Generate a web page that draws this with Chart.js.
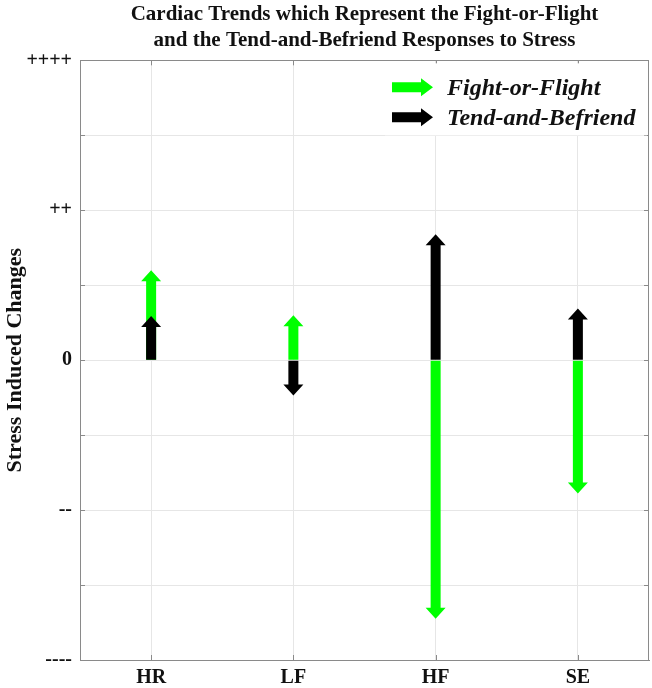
<!DOCTYPE html>
<html>
<head>
<meta charset="utf-8">
<script src="https://cdn.jsdelivr.net/npm/chart.js@4.4.1/dist/chart.umd.min.js"></script>
<style>
  html, body { margin: 0; padding: 0; background: #fff; }
  #wrap { width: 652px; height: 688px; }
</style>
</head>
<body>
<div id="wrap"><canvas id="cardiac"></canvas></div>
<script>
// data
const categories = ['HR', 'LF', 'HF', 'SE'];
const fightFlight = [1.2, 0.6, -3.45, -1.78];
const tendBefriend = [0.59, -0.47, 1.68, 0.69];
const yTickValues = [-4, -2, 0, 2, 4];
const yTickText = ['----', '--', '0', '++', '++++'];

const serif = 'Liberation Serif, Times New Roman, serif';
const axisGrey = '#8a8a8a';

// draw each bar as an arrow (shaft + head) from its base to its value
const arrowBars = {
  id: 'arrowBars',
  beforeDatasetDraw(chart, args) {
    const ctx = chart.ctx;
    const ds = chart.data.datasets[args.index];
    ctx.save();
    ctx.fillStyle = ds.backgroundColor;
    args.meta.data.forEach(el => {
      const p = el.getProps(['x', 'y', 'base'], true);
      const dir = p.y < p.base ? -1 : 1;
      const neck = p.y - dir * 11;
      ctx.beginPath();
      ctx.moveTo(p.x - 5, p.base);
      ctx.lineTo(p.x - 5, neck);
      ctx.lineTo(p.x - 10, neck);
      ctx.lineTo(p.x, p.y);
      ctx.lineTo(p.x + 10, neck);
      ctx.lineTo(p.x + 5, neck);
      ctx.lineTo(p.x + 5, p.base);
      ctx.closePath();
      ctx.fill();
    });
    ctx.restore();
    return false;
  }
};

// box around the plot, inward tick marks and the legend inside the plot
const frameAndLegend = {
  id: 'frameAndLegend',
  afterDraw(chart) {
    const ctx = chart.ctx;
    const ca = chart.chartArea;
    const xs = chart.scales.x, ys = chart.scales.y;
    ctx.save();
    ctx.strokeStyle = axisGrey;
    ctx.lineWidth = 1;
    ctx.beginPath();
    for (let v = -4; v <= 4; v++) {
      const y = Math.round(ys.getPixelForValue(v)) + 0.5;
      ctx.moveTo(ca.left, y); ctx.lineTo(ca.left + 5, y);
      ctx.moveTo(ca.right, y); ctx.lineTo(ca.right - 5, y);
    }
    categories.forEach((c, i) => {
      const x = Math.round(xs.getPixelForValue(i)) + 0.5;
      ctx.moveTo(x, ca.bottom); ctx.lineTo(x, ca.bottom - 5);
      ctx.moveTo(x, ca.top); ctx.lineTo(x, ca.top + 5);
    });
    ctx.stroke();
    ctx.strokeRect(Math.round(ca.left) + 0.5, Math.round(ca.top) + 0.5,
      Math.round(ca.right - ca.left) - 1, Math.round(ca.bottom - ca.top));

    // legend
    const lx = ca.right - 264, ly = ca.top + 3;
    ctx.fillStyle = '#fff';
    ctx.fillRect(lx, ly, 262, 72);
    const rows = [ca.top + 27, ca.top + 57];
    chart.data.datasets.forEach((ds, i) => {
      const y = rows[i];
      const x0 = ca.right - 257, x1 = ca.right - 216;
      ctx.fillStyle = ds.backgroundColor;
      ctx.beginPath();
      ctx.moveTo(x0, y - 5);
      ctx.lineTo(x1 - 12, y - 5);
      ctx.lineTo(x1 - 12, y - 9);
      ctx.lineTo(x1, y);
      ctx.lineTo(x1 - 12, y + 9);
      ctx.lineTo(x1 - 12, y + 5);
      ctx.lineTo(x0, y + 5);
      ctx.closePath();
      ctx.fill();
      ctx.fillStyle = '#111';
      ctx.font = 'italic bold 24px ' + serif;
      ctx.textBaseline = 'middle';
      ctx.fillText(ds.label, ca.right - 202, y + 1);
    });
    ctx.restore();
  }
};

new Chart(document.getElementById('cardiac'), {
  type: 'bar',
  data: {
    labels: categories,
    datasets: [
      {
        label: 'Fight-or-Flight',
        data: fightFlight.map(v => [0, v]),
        backgroundColor: '#00ff00',
        barThickness: 10,
        grouped: false,
        order: 1
      },
      {
        label: 'Tend-and-Befriend',
        data: tendBefriend.map(v => [0, v]),
        backgroundColor: '#000000',
        barThickness: 10,
        grouped: false,
        order: 0
      }
    ]
  },
  options: {
    responsive: true,
    maintainAspectRatio: false,
    animation: false,
    layout: { padding: { right: 3, left: 0, top: 0, bottom: 0 } },
    plugins: {
      legend: { display: false },
      tooltip: { enabled: false },
      title: {
        display: true,
        fullSize: false,
        text: ['Cardiac Trends which Represent the Fight-or-Flight',
               'and the Tend-and-Befriend Responses to Stress'],
        color: '#111',
        font: { family: serif, size: 21, weight: 'bold', lineHeight: 1.27 },
        padding: { top: 1, bottom: 6 }
      }
    },
    scales: {
      x: {
        offset: true,
        grid: { offset: false, color: '#e6e6e6', drawTicks: false },
        border: { color: axisGrey },
        ticks: {
          color: '#111',
          padding: 6,
          font: { family: serif, size: 20, weight: 'bold' }
        },
        afterFit(s) { s.height = 28; }
      },
      y: {
        min: -4,
        max: 4,
        grid: { color: '#e6e6e6', drawTicks: false },
        border: { color: axisGrey },
        ticks: {
          stepSize: 1,
          color: '#111',
          padding: 8,
          font: { family: serif, size: 20, weight: 'bold' },
          callback(v) {
            const i = yTickValues.indexOf(v);
            return i >= 0 ? yTickText[i] : '';
          }
        },
        title: {
          display: true,
          text: 'Stress Induced Changes',
          color: '#111',
          font: { family: serif, size: 22, weight: 'bold' },
          padding: { top: 2, bottom: 0 }
        },
        afterFit(s) { s.width = 80; }
      }
    }
  },
  plugins: [arrowBars, frameAndLegend]
});
</script>
</body>
</html>
